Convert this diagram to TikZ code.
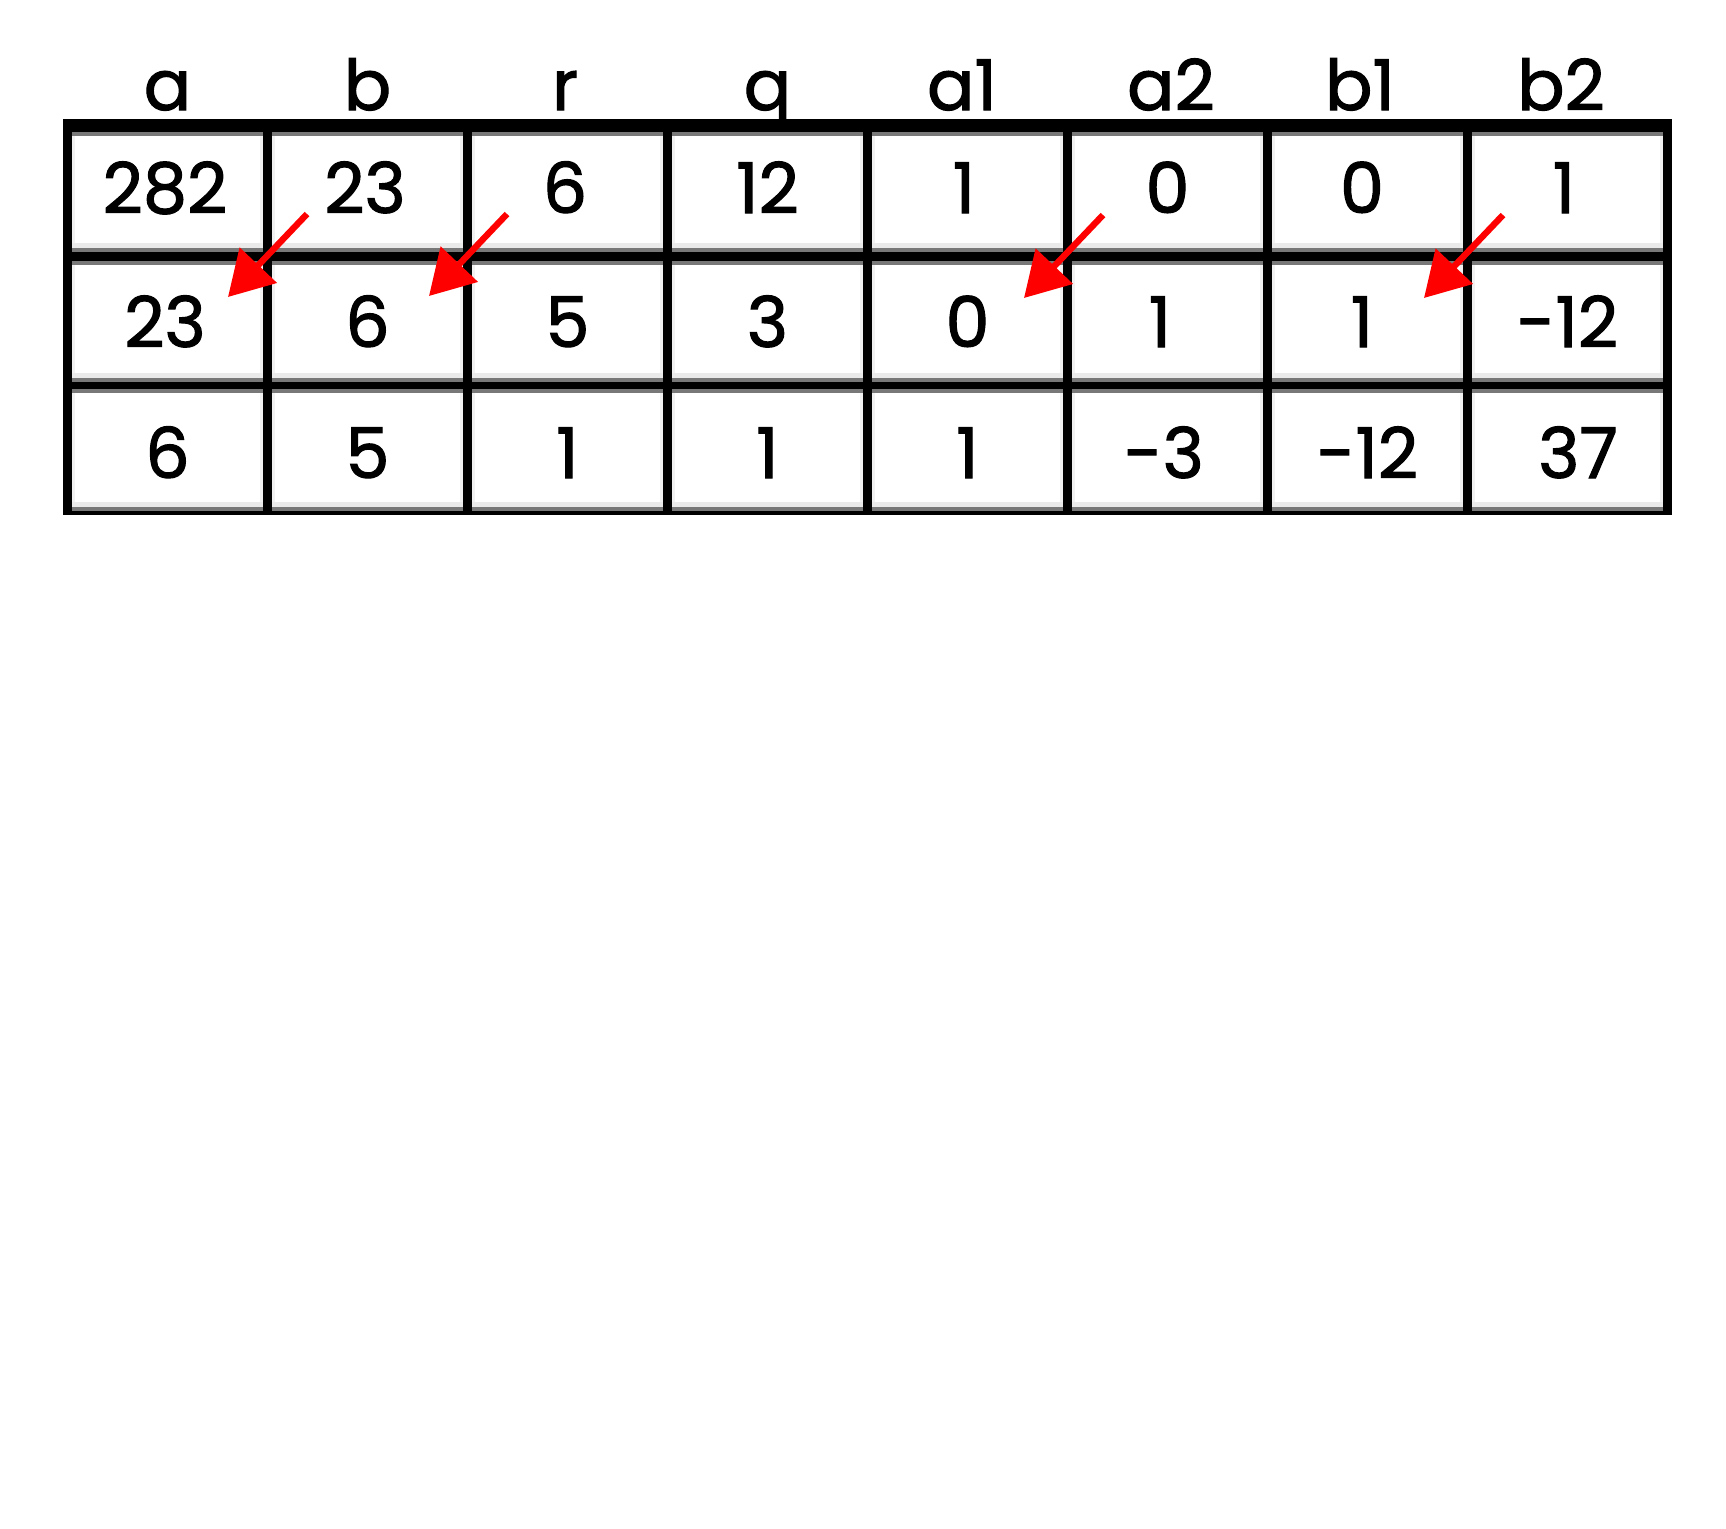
\documentclass[tikz,border=0pt]{standalone}
\usepackage{fontspec}
\setmainfont{Poppins}[FakeBold=1.6]
\usetikzlibrary{arrows.meta}
\definecolor{dgray}{HTML}{787878}
\definecolor{lgray}{HTML}{EAEAEA}
\definecolor{vlgray}{HTML}{F1F1F1}
\definecolor{arrowred}{HTML}{FF0000}
\begin{document}
\begin{tikzpicture}[x=0.5pt,y=-0.5pt,
  txt/.style={anchor=base, font=\fontsize{35}{38}\selectfont, inner sep=0pt},
  redarrow/.style={draw=arrowred, line width=3.2pt, -{Triangle[length=22pt,width=25pt]}}]
\useasboundingbox (0,0) rectangle (1726,1528);
\fill[white] (0,0) rectangle (1726,1528);
% table frame
\fill[black] (63,119) rectangle (1672,515);
\foreach \ya/\yb in {132/252, 261/382, 389/511} {
  \foreach \c in {0,...,7} {
    \pgfmathsetmacro\xa{72+200*\c}
    \pgfmathsetmacro\xb{263+200*\c}
    \fill[white] (\xa,\ya) rectangle (\xb,\yb);
    \fill[vlgray] (\xa,\ya) rectangle ({\xa+3},\yb);
    \fill[vlgray] ({\xb-3},\ya) rectangle (\xb,\yb);
    \fill[dgray] (\xa,\ya) rectangle (\xb,{\ya+3.5});
    \fill[lgray] (\xa,{\yb-9}) rectangle (\xb,{\yb-4.5});
    \fill[dgray] (\xa,{\yb-4.5}) rectangle (\xb,\yb);
  }
}
% headers
\node[txt] (ha)  at (167.5,110) {a};
\node[txt] (hb)  at (367.5,110) {b};
\node[txt] (hr)  at (565,110) {r};
\node[txt] (hq)  at (767.5,110) {q};
\node[txt] (ha1) at (962,110) {a1};
\node[txt] (ha2) at (1171,110) {a2};
\node[txt] (hb1) at (1360,110) {b1};
\node[txt] (hb2) at (1561,110) {b2};
% row 1
\node[txt] (c11) at (165,213) {282};
\node[txt] (c12) at (365,213) {23};
\node[txt] (c13) at (565,213) {6};
\node[txt] (c14) at (767.5,213) {12};
\node[txt] (c15) at (964,213) {1};
\node[txt] (c16) at (1167.5,213) {0};
\node[txt] (c17) at (1362,213) {0};
\node[txt] (c18) at (1564,213) {1};
% row 2
\node[txt] (c21) at (165,347) {23};
\node[txt] (c22) at (367.5,347) {6};
\node[txt] (c23) at (567.5,347) {5};
\node[txt] (c24) at (767.5,347) {3};
\node[txt] (c25) at (967.5,347) {0};
\node[txt] (c26) at (1160,347) {1};
\node[txt] (c27) at (1362,347) {1};
\node[txt] (c28) at (1567.5,347) {-12};
% row 3
\node[txt] (c31) at (167.5,478) {6};
\node[txt] (c32) at (367.5,478) {5};
\node[txt] (c33) at (567.5,478) {1};
\node[txt] (c34) at (767.5,478) {1};
\node[txt] (c35) at (967.5,478) {1};
\node[txt] (c36) at (1164,478) {-3};
\node[txt] (c37) at (1367.5,478) {-12};
\node[txt] (c38) at (1578,478) {37};
% arrows
\coordinate (t1) at (307,214);  \coordinate (p1) at (228,297);
\coordinate (t2) at (507,214);  \coordinate (p2) at (429,296);
\coordinate (t3) at (1103,215); \coordinate (p3) at (1024,298);
\coordinate (t4) at (1503,215); \coordinate (p4) at (1424,298);
\draw[redarrow] (t1) -- (p1);
\draw[redarrow] (t2) -- (p2);
\draw[redarrow] (t3) -- (p3);
\draw[redarrow] (t4) -- (p4);
\end{tikzpicture}
\end{document}
